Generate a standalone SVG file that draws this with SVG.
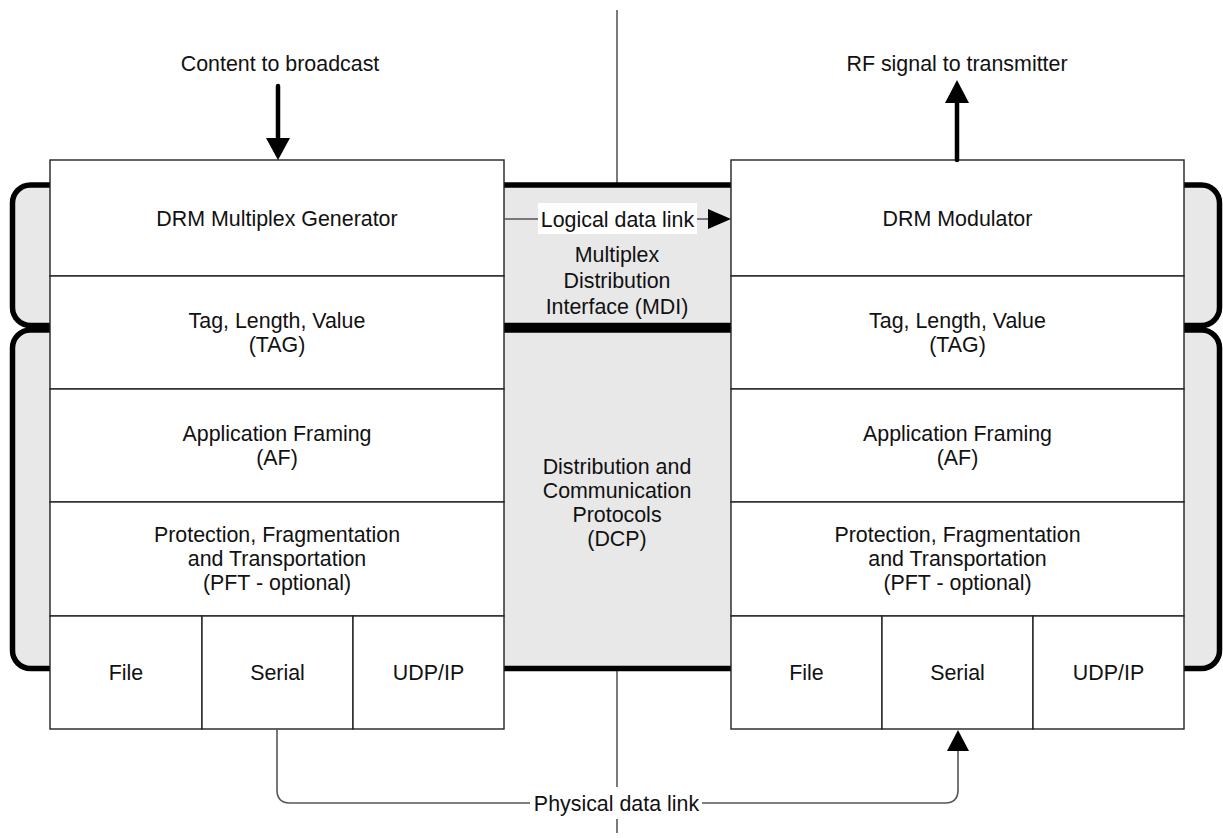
<svg xmlns="http://www.w3.org/2000/svg" width="1223" height="838" viewBox="0 0 1223 838">
<style>
text{font-family:"Liberation Sans",Arial,sans-serif;font-size:21.4px;fill:#111;text-anchor:middle}
.cell{fill:#fff;stroke:#222;stroke-width:1.4}
.bracket{fill:#e8e8e8;stroke:#000;stroke-width:5.5}
.link{fill:none;stroke:#555;stroke-width:1.6}
.thick{fill:none;stroke:#000;stroke-width:4.5;stroke-linecap:round}
.lbl{fill:#fff}
</style>
<rect width="1223" height="838" fill="#fff"/>
<line x1="617" y1="10" x2="617" y2="833" stroke="#333" stroke-width="1.3"/>
<g id="brackets">
<rect id="mdi-bracket" class="bracket" x="12.5" y="185" width="1207" height="140.5" rx="18"/>
<rect id="dcp-bracket" class="bracket" x="12.5" y="330" width="1207" height="338.5" rx="18"/>
</g>
<g id="mid-labels">
<text x="617" y="262">Multiplex</text>
<text x="617" y="288">Distribution</text>
<text x="617" y="314">Interface (MDI)</text>
<text x="617" y="474">Distribution and</text>
<text x="617" y="498">Communication</text>
<text x="617" y="522">Protocols</text>
<text x="617" y="546">(DCP)</text>
</g>
<g id="left-drm"><rect class="cell" x="50" y="160" width="454" height="116"/><text x="277" y="226">DRM Multiplex Generator</text></g>
<g id="left-tag"><rect class="cell" x="50" y="276" width="454" height="113"/><text x="277" y="328">Tag, Length, Value</text><text x="277" y="352">(TAG)</text></g>
<g id="left-af"><rect class="cell" x="50" y="389" width="454" height="113"/><text x="277" y="441">Application Framing</text><text x="277" y="465">(AF)</text></g>
<g id="left-pft"><rect class="cell" x="50" y="502" width="454" height="114"/><text x="277" y="542">Protection, Fragmentation</text><text x="277" y="566">and Transportation</text><text x="277" y="590">(PFT - optional)</text></g>
<g id="left-file"><rect class="cell" x="50" y="616" width="152" height="113"/><text x="126" y="680">File</text></g>
<g id="left-serial"><rect class="cell" x="202" y="616" width="151" height="113"/><text x="277.5" y="680">Serial</text></g>
<g id="left-udp"><rect class="cell" x="353" y="616" width="151" height="113"/><text x="428.5" y="680">UDP/IP</text></g>
<g id="right-drm"><rect class="cell" x="731" y="160" width="453" height="116"/><text x="957.5" y="226">DRM Modulator</text></g>
<g id="right-tag"><rect class="cell" x="731" y="276" width="453" height="113"/><text x="957.5" y="328">Tag, Length, Value</text><text x="957.5" y="352">(TAG)</text></g>
<g id="right-af"><rect class="cell" x="731" y="389" width="453" height="113"/><text x="957.5" y="441">Application Framing</text><text x="957.5" y="465">(AF)</text></g>
<g id="right-pft"><rect class="cell" x="731" y="502" width="453" height="114"/><text x="957.5" y="542">Protection, Fragmentation</text><text x="957.5" y="566">and Transportation</text><text x="957.5" y="590">(PFT - optional)</text></g>
<g id="right-file"><rect class="cell" x="731" y="616" width="151" height="113"/><text x="806.5" y="680">File</text></g>
<g id="right-serial"><rect class="cell" x="882" y="616" width="151" height="113"/><text x="957.5" y="680">Serial</text></g>
<g id="right-udp"><rect class="cell" x="1033" y="616" width="151" height="113"/><text x="1108.5" y="680">UDP/IP</text></g>
<g id="connectors">
<text x="280" y="71">Content to broadcast</text>
<line class="thick" x1="278" y1="86" x2="278" y2="140"/>
<path d="M266,138 L290,138 L278,160 Z" fill="#000"/>
<text x="957" y="71">RF signal to transmitter</text>
<line class="thick" x1="957" y1="160" x2="957" y2="101"/>
<path d="M945,103 L969,103 L957,80 Z" fill="#000"/>
<line class="link" x1="504" y1="219" x2="712" y2="219"/>
<path d="M708,209 L731,219 L708,229 Z" fill="#000"/>
<rect class="lbl" x="538" y="203" width="159" height="31"/>
<text x="617.5" y="226.5">Logical data link</text>
<path class="link" d="M277,729 V790 Q277,803 290,803 H945 Q958,803 958,790 V748"/>
<path d="M947,751 L969,751 L958,730 Z" fill="#000"/>
<rect class="lbl" x="530" y="787" width="172" height="32"/>
<text x="616.5" y="810.5">Physical data link</text>
</g>
</svg>
